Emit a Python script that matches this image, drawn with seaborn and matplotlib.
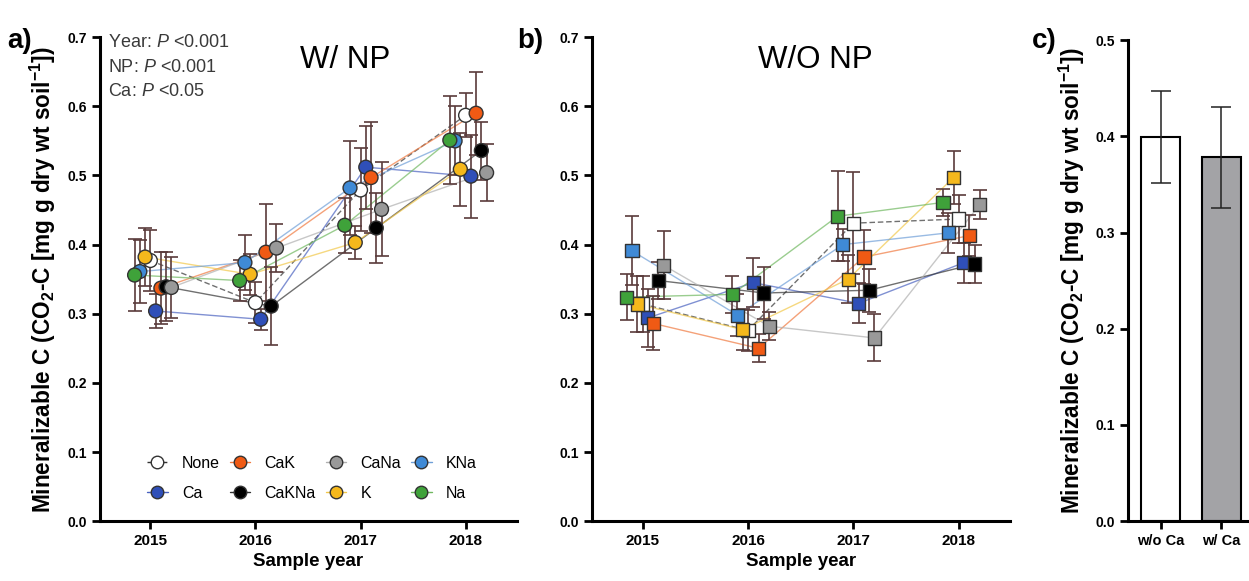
import numpy as np
import pandas as pd
import matplotlib
matplotlib.use('Agg')
import matplotlib.pyplot as plt
import seaborn as sns
from matplotlib.lines import Line2D

years = [2015, 2016, 2017, 2018]
treatments = ['None', 'Ca', 'CaK', 'CaKNa', 'CaNa', 'K', 'KNa', 'Na']

# panel a: with N and P
np_mean = {
    'None':  [0.377, 0.316, 0.479, 0.587],
    'Ca':    [0.304, 0.292, 0.512, 0.499],
    'CaK':   [0.337, 0.389, 0.497, 0.590],
    'CaKNa': [0.339, 0.311, 0.424, 0.536],
    'CaNa':  [0.338, 0.395, 0.451, 0.504],
    'K':     [0.382, 0.357, 0.403, 0.509],
    'KNa':   [0.361, 0.374, 0.482, 0.550],
    'Na':    [0.356, 0.348, 0.428, 0.551],
}
np_err = {
    'None':  [0.044, 0.030, 0.060, 0.032],
    'Ca':    [0.024, 0.015, 0.060, 0.060],
    'CaK':   [0.052, 0.070, 0.080, 0.060],
    'CaKNa': [0.050, 0.056, 0.050, 0.042],
    'CaNa':  [0.044, 0.035, 0.068, 0.041],
    'K':     [0.042, 0.030, 0.024, 0.053],
    'KNa':   [0.045, 0.040, 0.068, 0.050],
    'Na':    [0.052, 0.030, 0.040, 0.064],
}

# panel b: without N and P
nonp_mean = {
    'None':  [0.314, 0.276, 0.431, 0.437],
    'Ca':    [0.294, 0.345, 0.315, 0.374],
    'CaK':   [0.286, 0.250, 0.382, 0.413],
    'CaKNa': [0.348, 0.330, 0.334, 0.372],
    'CaNa':  [0.370, 0.282, 0.265, 0.458],
    'K':     [0.314, 0.277, 0.350, 0.497],
    'KNa':   [0.391, 0.298, 0.400, 0.417],
    'Na':    [0.324, 0.328, 0.441, 0.461],
}
nonp_err = {
    'None':  [0.040, 0.030, 0.074, 0.035],
    'Ca':    [0.042, 0.035, 0.029, 0.029],
    'CaK':   [0.039, 0.020, 0.039, 0.030],
    'CaKNa': [0.027, 0.038, 0.031, 0.027],
    'CaNa':  [0.049, 0.020, 0.034, 0.021],
    'K':     [0.040, 0.030, 0.035, 0.038],
    'KNa':   [0.050, 0.030, 0.023, 0.029],
    'Na':    [0.033, 0.027, 0.065, 0.020],
}

# panel c
ca_groups = ['w/o Ca', 'w/ Ca']
ca_mean = [0.399, 0.378]
ca_err = [0.048, 0.052]

# left-to-right order inside each year
dodge_order = ['Na', 'KNa', 'K', 'None', 'Ca', 'CaK', 'CaKNa', 'CaNa']

fill_colors = {'None': '#ffffff', 'Ca': '#2f4fb8', 'CaK': '#f05a14', 'CaKNa': '#000000',
               'CaNa': '#999999', 'K': '#f5b81c', 'KNa': '#3f8ad6', 'Na': '#3fa23a'}
line_colors = {'None': '#333333', 'Ca': '#4a62c0', 'CaK': '#f07a40', 'CaKNa': '#333333',
               'CaNa': '#b0b0b0', 'K': '#f2c84a', 'KNa': '#6f9fd8', 'Na': '#70b860'}
err_color = '#5a3b3b'


def build_frame(means, errs):
    rows = []
    for t in treatments:
        off = (dodge_order.index(t) - 3) * 0.05
        for i, yr in enumerate(years):
            rows.append({'treatment': t, 'year': yr, 'x': yr + off,
                         'value': means[t][i], 'err': errs[t][i]})
    return pd.DataFrame(rows)


def bold_ticks(ax):
    for lab in ax.get_xticklabels() + ax.get_yticklabels():
        lab.set_fontweight('bold')


def style_axes(ax):
    sns.despine(ax=ax)
    for s in ['left', 'bottom']:
        ax.spines[s].set_linewidth(2.2)
    ax.tick_params(axis='both', width=2, length=6, colors='black')
    ax.tick_params(axis='y', labelsize=10)
    ax.tick_params(axis='x', labelsize=11)


def plot_panel(ax, df, marker, size):
    sns.lineplot(data=df, x='x', y='value', hue='treatment', style='treatment',
                 palette=line_colors, hue_order=treatments,
                 dashes={t: ((4, 2) if t == 'None' else '') for t in treatments},
                 linewidth=1.0, alpha=0.7, legend=False, ax=ax, zorder=1)
    for t in treatments:
        d = df[df.treatment == t]
        ax.errorbar(d.x, d.value, yerr=d.err, fmt='none', ecolor=err_color,
                    elinewidth=1.2, capsize=5, capthick=1.2, zorder=2)
    sns.scatterplot(data=df, x='x', y='value', hue='treatment', palette=fill_colors,
                    hue_order=treatments, marker=marker, s=size, edgecolor='#333333',
                    linewidth=1, legend=False, ax=ax, zorder=3)
    ax.set_xlim(2014.52, 2018.49)
    ax.set_ylim(0, 0.7)
    ax.set_xticks(years)
    ax.set_yticks(np.arange(0, 0.71, 0.1))
    ax.yaxis.set_major_formatter(matplotlib.ticker.FormatStrFormatter('%.1f'))
    ax.set_xlabel('Sample year', fontsize=13.5, fontweight='bold', labelpad=3)
    ax.set_ylabel('')
    style_axes(ax)
    bold_ticks(ax)


sns.set_theme(style='ticks')
plt.rcParams['font.family'] = ['Liberation Sans', 'DejaVu Sans']
plt.rcParams['mathtext.fontset'] = 'custom'
plt.rcParams['mathtext.it'] = 'Liberation Sans:italic'
plt.rcParams['mathtext.rm'] = 'Liberation Sans:bold'
plt.rcParams['mathtext.bf'] = 'Liberation Sans:bold'
for key in ['text.color', 'axes.labelcolor', 'axes.edgecolor', 'xtick.color', 'ytick.color']:
    plt.rcParams[key] = 'black'

fig = plt.figure(figsize=(12.49, 5.81), dpi=100)
ax_a = fig.add_axes([0.080, 0.103, 0.334, 0.833])
ax_b = fig.add_axes([0.474, 0.103, 0.335, 0.833])
ax_c = fig.add_axes([0.903, 0.103, 0.097, 0.828])

ylabel = r'Mineralizable C (CO$_\mathbf{2}$-C [mg g dry wt soil$^\mathbf{-1}$])'

df_a = build_frame(np_mean, np_err)
plot_panel(ax_a, df_a, 'o', 100)
ax_a.set_ylabel(ylabel, fontsize=16.3, fontweight='bold', labelpad=7)

df_b = build_frame(nonp_mean, nonp_err)
plot_panel(ax_b, df_b, 's', 90)

ax_a.text(0.588, 0.952, 'W/ NP', transform=ax_a.transAxes, fontsize=22.5, ha='center', va='center')
ax_b.text(0.533, 0.952, 'W/O NP', transform=ax_b.transAxes, fontsize=22.5, ha='center', va='center')

stats = ['Year: $P$ <0.001', 'NP: $P$ <0.001', 'Ca: $P$ <0.05']
for i, s in enumerate(stats):
    ax_a.text(0.02, 0.988 - i * 0.05, s, transform=ax_a.transAxes, fontsize=13,
              color='#3a3a3a', va='center', ha='left')

handles = []
for t in treatments:
    handles.append(Line2D([], [], color=line_colors[t], lw=1, ls='--' if t == 'None' else '-',
                          marker='o', ms=9, mfc=fill_colors[t], mec='#333333', mew=1))
ax_a.legend(handles, treatments, ncol=4, loc='lower left', bbox_to_anchor=(0.078, 0.012),
            frameon=False, fontsize=11.5, handlelength=1.3, handletextpad=0.9,
            columnspacing=0.6, labelspacing=0.95)

# panel c
df_c = pd.DataFrame({'group': ca_groups, 'value': ca_mean, 'err': ca_err})
sns.barplot(data=df_c, x='group', y='value', hue='group', palette=['#ffffff', '#a3a3a7'],
            edgecolor='black', linewidth=1.5, width=0.64, legend=False, ax=ax_c)
ax_c.errorbar(range(len(ca_groups)), df_c.value, yerr=df_c.err, fmt='none', ecolor='#222222',
              elinewidth=1.1, capsize=7, capthick=1.1, zorder=3)
ax_c.set_xlim(-0.54, 1.46)
ax_c.set_ylim(0, 0.5)
ax_c.set_yticks(np.arange(0, 0.51, 0.1))
ax_c.yaxis.set_major_formatter(matplotlib.ticker.FormatStrFormatter('%.1f'))
ax_c.set_xlabel('')
ax_c.set_ylabel(ylabel, fontsize=16.3, fontweight='bold', labelpad=6)
style_axes(ax_c)
ax_c.tick_params(axis='x', labelsize=10.5)
bold_ticks(ax_c)

fig.text(0.006, 0.93, 'a)', fontsize=20, fontweight='bold', va='center')
fig.text(0.414, 0.93, 'b)', fontsize=20, fontweight='bold', va='center')
fig.text(0.826, 0.93, 'c)', fontsize=20, fontweight='bold', va='center')

fig.savefig('out.png', dpi=100)
